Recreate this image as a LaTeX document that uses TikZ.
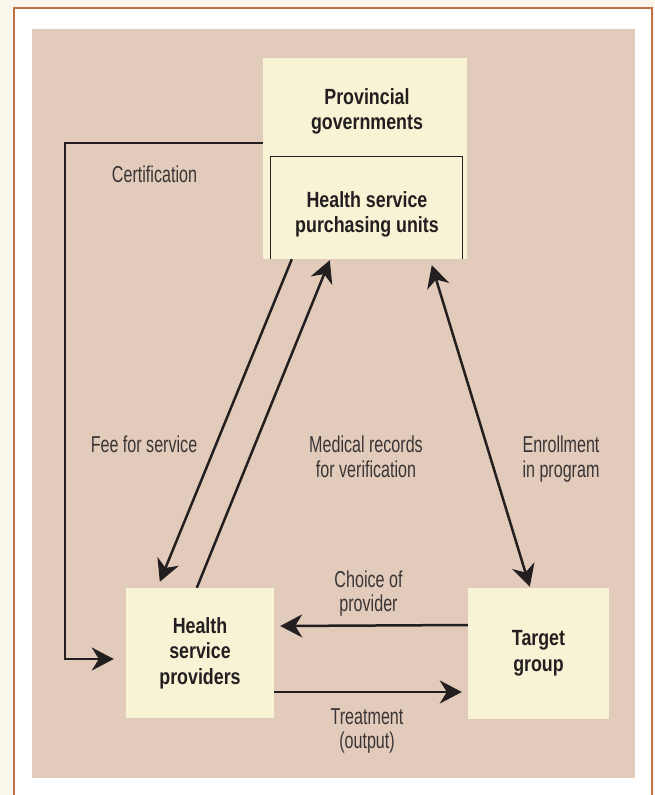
\documentclass[tikz,border=0pt]{standalone}
\usepackage{fontspec}
\setmainfont{Liberation Sans}[FakeStretch=0.7]
\newfontfamily\boxfont{Liberation Sans}[FakeStretch=0.81]
\usetikzlibrary{arrows.meta}
\definecolor{mypagecolor}{HTML}{FAF6EC}
\definecolor{myframecolor}{HTML}{C07048}
\definecolor{mytancolor}{HTML}{E2CBBA}
\definecolor{myboxcolor}{HTML}{F8F3D4}
\definecolor{myinkcolor}{HTML}{231F20}
\tikzset{%
  unitbox/.style={fill=myboxcolor, rectangle, inner sep=0pt, align=center, text=myinkcolor, font=\boxfont\bfseries\fontsize{22}{25.5}\selectfont},
  flowlabel/.style={align=center, inner sep=0pt, text=myinkcolor!90, font=\fontsize{23}{24.5}\selectfont},
  flowarrow/.style={draw=myinkcolor, line width=2.5pt, >={Stealth[length=22pt,width=23pt,inset=7pt]}, ->},
}

\begin{document}
\begin{tikzpicture}[x=1pt, y=-1pt]%
\useasboundingbox (0,0) rectangle (655,795);%
\fill[mypagecolor] (0,0) rectangle (655,795);%
\fill[white] (14,8) rectangle (652,795);%
\draw[myframecolor, line width=2pt] (14,795) -- (14,8) -- (652,8) -- (652,795);%
\fill[mytancolor] (32,29) rectangle (635,778);%
\node[unitbox, minimum width=204pt, minimum height=201pt] (prov) at (365, 158.5) {};%
\node[unitbox, fill=none] (provlbl) at (367, 111.5) {Provincial\\governments};%
\node[unitbox, fill=none] (purch) at (367, 214.5) {Health service\\purchasing units};%
\draw[myinkcolor, line width=1.2pt] ([xshift=8pt]prov.south west) |- ([xshift=-5pt,yshift=-99pt]prov.north east) -- ([xshift=-5pt]prov.south east);%
\node[unitbox, minimum width=148pt, minimum height=130pt] (hsp) at (200, 653) {Health\\service\\providers};%
\node[unitbox, minimum width=141pt, minimum height=131pt] (tgt) at (538.5, 653.5) {Target\\group};%
\coordinate (certbend) at (65, 400);%
\draw[flowarrow] ([yshift=15.5pt]prov.west) -| (certbend) |- ([xshift=-12pt,yshift=-6pt]hsp.west);%
\draw[flowarrow] ([xshift=29pt]prov.south west) -- ([xshift=34pt,yshift=6pt]hsp.north west);%
\draw[flowarrow] ([xshift=71pt]hsp.north west) -- ([xshift=67pt,yshift=-1pt]prov.south west);%
\draw[flowarrow, <->] ([xshift=169pt,yshift=-6pt]prov.south west) -- ([xshift=62pt,yshift=1pt]tgt.north west);%
\draw[flowarrow] ([yshift=28.5pt]tgt.west) -- ([xshift=6pt,yshift=27pt]hsp.east);%
\draw[flowarrow] ([yshift=-39pt]hsp.east) -- ([xshift=-6pt,yshift=-38.5pt]tgt.west);%
\node[flowlabel] (certlbl) at (154.5, 174.5) {Certification};%
\node[flowlabel] (feelbl) at (144, 444.6) {Fee for service};%
\node[flowlabel] (medlbl) at (366, 456.6) {Medical records\\for verification};%
\node[flowlabel] (enrlbl) at (561, 459) {Enrollment\\in program};%
\node[flowlabel] (choicelbl) at (368.5, 593.5) {Choice of\\provider};%
\node[flowlabel] (treatlbl) at (367, 731) {Treatment\\(output)};%
\end{tikzpicture}
\end{document}
